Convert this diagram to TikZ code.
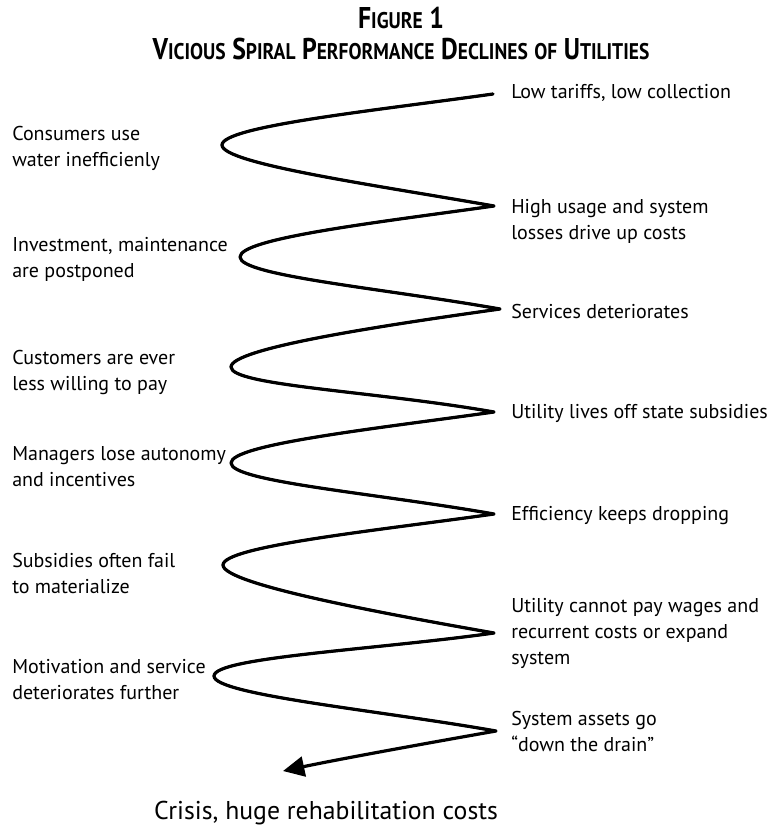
\documentclass[tikz,border=0pt]{standalone}
\usepackage{fontspec}
\setmainfont{PT Sans}
\newfontfamily\titlefont[FakeStretch=0.86]{PT Sans}
\usetikzlibrary{arrows.meta}

% fake small caps for the title
\newcommand{\smcap}[1]{{\fontsize{17}{17}\selectfont #1}}

\begin{document}
\begin{tikzpicture}[x=0.75pt, y=-0.75pt,
    note/.style={anchor=west, align=left, inner sep=0pt, font=\fontsize{15}{19.5}\selectfont},
    heading/.style={anchor=base, font=\titlefont\bfseries\fontsize{22.5}{22.5}\selectfont},
    spiral/.style={line width=2.4pt, line cap=round, line join=round},
    toleft/.style={out=188, in=90, out distance=90pt, in distance=14pt},
    toright/.style={out=-90, in=170, out distance=14pt, in distance=90pt}
]
\useasboundingbox (0,0) rectangle (775,828);

% Title
\node[heading] (t1) at (401,28) {F\smcap{IGURE} 1};
\node[heading] (t2) at (401,59)
  {V\smcap{ICIOUS} S\smcap{PIRAL} P\smcap{ERFORMANCE} D\smcap{ECLINES} \smcap{OF} U\smcap{TILITIES}};

% Turning points of the spiral
\coordinate (r0) at (493,94);
\coordinate (l1) at (222,145);
\coordinate (r1) at (494,206);
\coordinate (l2) at (240,257);
\coordinate (r2) at (500,309);
\coordinate (l3) at (231,367);
\coordinate (r3) at (494,412);
\coordinate (l4) at (231,463);
\coordinate (r4) at (494,514);
\coordinate (l5) at (223,565);
\coordinate (r5) at (494,633);
\coordinate (l6) at (214,676);
\coordinate (r6) at (496,731);
\coordinate (tip) at (283,771);

% Spiral (second stroke, shifted, thickens the turns)
\draw[spiral, line width=1.8pt, xshift=-1.2pt]
  (r0) to[toleft] (l1) to[toright] (r1)
       to[toleft] (l2) to[toright] (r2)
       to[toleft] (l3) to[toright] (r3)
       to[toleft] (l4) to[toright] (r4)
       to[toleft] (l5) to[toright] (r5)
       to[toleft] (l6) to[toright] (r6);
\draw[spiral, -{Triangle[length=16pt, width=15pt]}]
  (r0) to[toleft] (l1) to[toright] (r1)
       to[toleft] (l2) to[toright] (r2)
       to[toleft] (l3) to[toright] (r3)
       to[toleft] (l4) to[toright] (r4)
       to[toleft] (l5) to[toright] (r5)
       to[toleft] (l6) to[toright] (r6)
       to[out=190, in=12, out distance=60pt, in distance=40pt] (tip);

% Left notes
\node[note] (n1) at (12,148) {Consumers use\\water inefficienly};
\node[note] (n2) at (12,259) {Investment, maintenance\\are postponed};
\node[note] (n3) at (12,372) {Customers are ever\\less willing to pay};
\node[note] (n4) at (12,467) {Managers lose autonomy\\and incentives};
\node[note] (n5) at (12,573) {Subsidies often fail\\to materialize};
\node[note] (n6) at (12,680) {Motivation and service\\deteriorates further};

% Right notes
\node[note] (m1) at (511,93) {Low tariffs, low collection};
\node[note] (m2) at (511,221) {High usage and system\\losses drive up costs};
\node[note] (m3) at (511,311) {Services deteriorates};
\node[note] (m4) at (511,413) {Utility lives off state subsidies};
\node[note] (m5) at (511,516) {Efficiency keeps dropping};
\node[note] (m6) at (511,633) {Utility cannot pay wages and\\recurrent costs or expand\\system};
\node[note] (m7) at (511,731) {System assets go\\“down the drain”};

% Outcome
\node[font=\fontsize{19.3}{19.3}\selectfont] (crisis) at (326,813) {Crisis, huge rehabilitation costs};

\end{tikzpicture}
\end{document}
